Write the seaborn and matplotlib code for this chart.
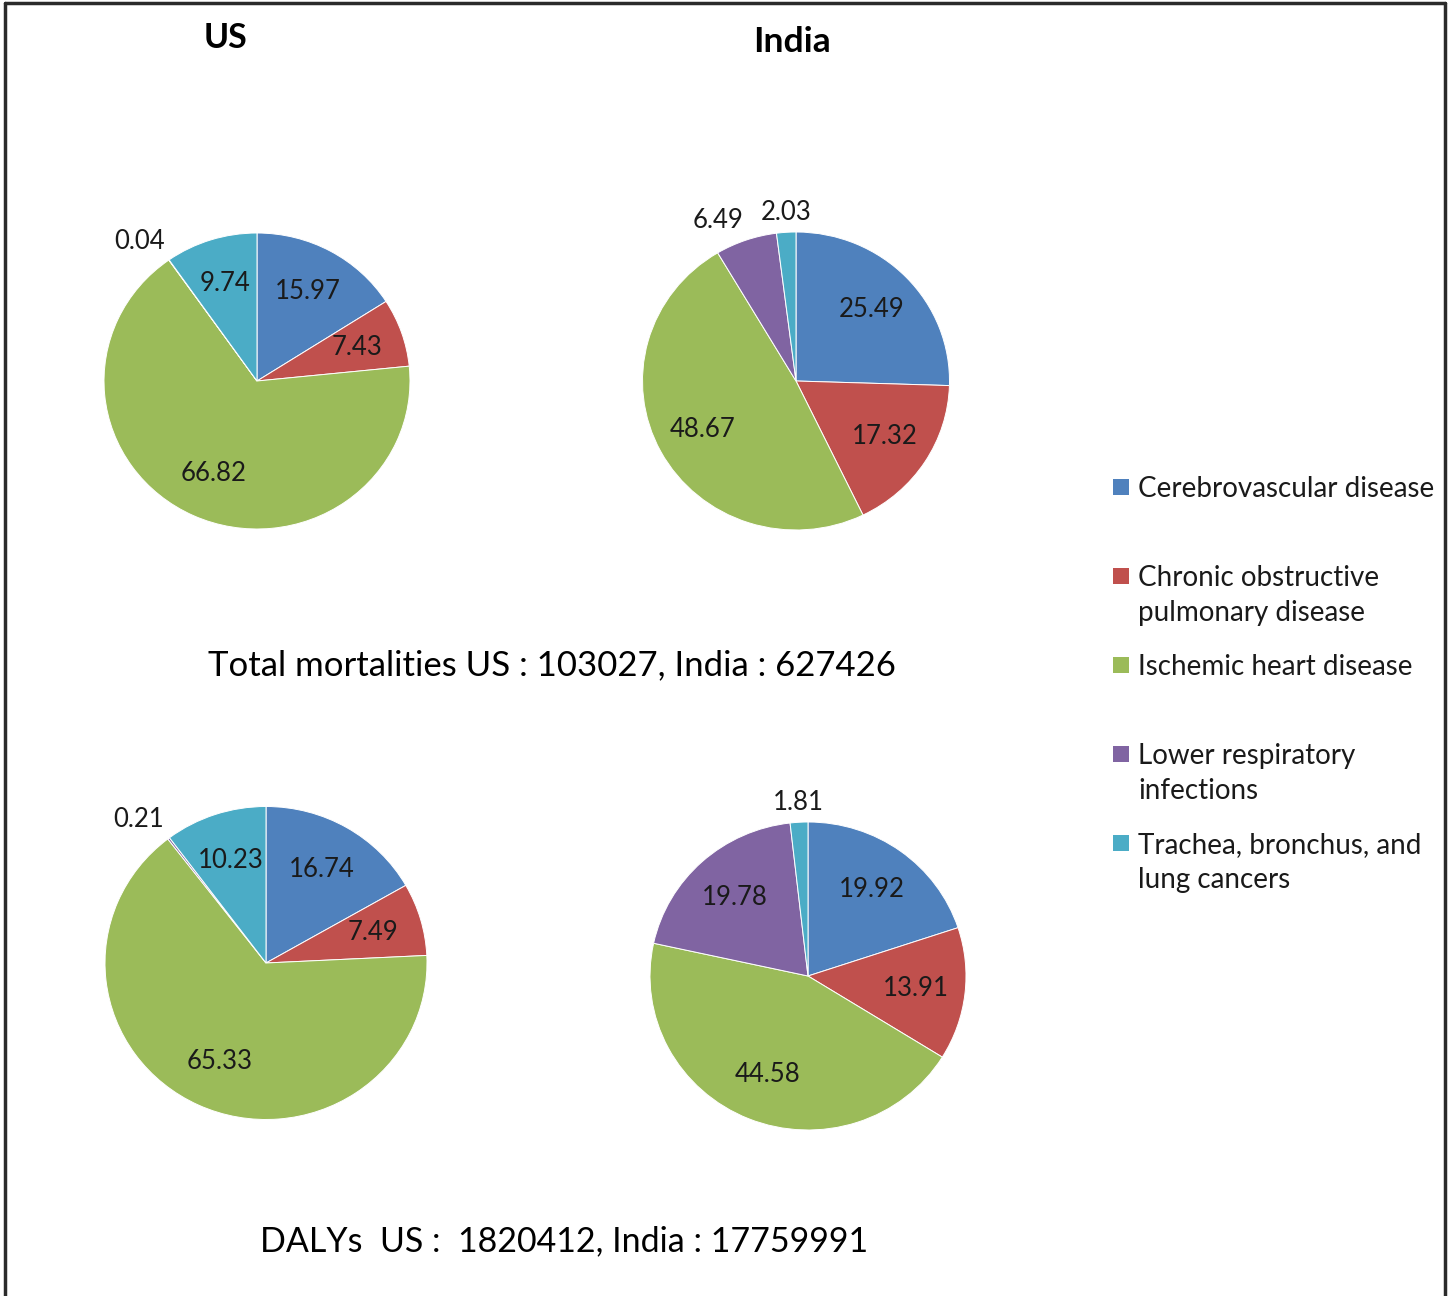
import numpy as np
import matplotlib
matplotlib.use("Agg")
import matplotlib.pyplot as plt
from matplotlib.patches import Rectangle
import seaborn as sns

# Cause-of-death categories and their colours
categories = [
    "Cerebrovascular disease",
    "Chronic obstructive\npulmonary disease",
    "Ischemic heart disease",
    "Lower respiratory\ninfections",
    "Trachea, bronchus, and\nlung cancers",
]
palette = ["#4F81BD", "#C0504D", "#9BBB59", "#8064A2", "#4BACC6"]

# Percentage shares per panel (order follows `categories`)
us_mortality = [15.97, 7.43, 66.82, 0.04, 9.74]
india_mortality = [25.49, 17.32, 48.67, 6.49, 2.03]
us_dalys = [16.74, 7.49, 65.33, 0.21, 10.23]
india_dalys = [19.92, 13.91, 44.58, 19.78, 1.81]

column_titles = ["US", "India"]
mortality_caption = "Total mortalities US : 103027, India : 627426"
dalys_caption = "DALYs  US :  1820412, India : 17759991"

sns.set_theme(style="white")
plt.rcParams["font.family"] = ["Lato", "DejaVu Sans"]

W, H = 1452, 1296
fig = plt.figure(figsize=(W / 100, H / 100), dpi=100)
fig.patch.set_facecolor("white")


def add_pie(values, cx, cy, rx, ry):
    """Pie centred at pixel (cx, cy), semi-axes rx/ry, labelled with its values."""
    ax = fig.add_axes([(cx - rx) / W, (H - cy - ry) / H, 2 * rx / W, 2 * ry / H])
    wedges, _ = ax.pie(
        values,
        colors=palette,
        startangle=90,
        counterclock=False,
        radius=1.0,
        wedgeprops=dict(edgecolor="white", linewidth=0.7),
    )
    ax.set_aspect("auto")
    ax.set_xlim(-1, 1)
    ax.set_ylim(-1, 1)
    ax.axis("off")
    for w, v in zip(wedges, values):
        mid = np.deg2rad((w.theta1 + w.theta2) / 2)
        c, s = np.cos(mid), np.sin(mid)
        if v >= 7:
            ax.text(0.69 * c, 0.69 * s, f"{v:.2f}", ha="center", va="center",
                    fontsize=18.5, color="#1a1a1a", clip_on=False)
        else:
            ha = "right" if c < -0.2 else ("left" if c > 0.2 else "center")
            ax.text(1.05 * c, 1.05 * s, f"{v:.2f}", ha=ha,
                    va="bottom" if s > 0 else "top",
                    fontsize=18.5, color="#1a1a1a", clip_on=False)
    return ax


add_pie(us_mortality, 257, 381, 153, 148)
add_pie(india_mortality, 796, 381, 153.5, 149)
add_pie(us_dalys, 266, 963, 161, 156.5)
add_pie(india_dalys, 808, 976, 158, 154)

# Column titles
fig.text(226 / W, 1 - 38 / H, column_titles[0], ha="center", va="center",
         fontsize=24.5, fontweight="bold", color="black")
fig.text(792 / W, 1 - 42 / H, column_titles[1], ha="center", va="center",
         fontsize=25.5, fontweight="bold", color="black")

# Totals beneath each row of pies
fig.text(552 / W, 1 - 665 / H, mortality_caption, ha="center", va="center",
         fontsize=25, color="black")
fig.text(564 / W, 1 - 1241 / H, dalys_caption, ha="center", va="center",
         fontsize=24.5, color="black")

# Legend: one entry every 89 px, swatch aligned with the first text line
leg_top = 487
for i, (cat, col) in enumerate(zip(categories, palette)):
    y = leg_top + 89 * i
    fig.patches.append(Rectangle((1113 / W, 1 - (y + 8) / H), 16 / W, 16 / H,
                                 transform=fig.transFigure, facecolor=col,
                                 edgecolor="none"))
    fig.text(1138 / W, 1 - (y - 11) / H, cat, ha="left", va="top",
             fontsize=20, color="#1a1a1a", linespacing=1.43)

# Outer frame (top, left and right edges)
frame_kw = dict(color="#2b2b2b", linewidth=2.5, transform=fig.transFigure)
fig.add_artist(plt.Line2D([5 / W, 5 / W], [0, 1 - 3 / H], **frame_kw))
fig.add_artist(plt.Line2D([1445 / W, 1445 / W], [0, 1 - 3 / H], **frame_kw))
fig.add_artist(plt.Line2D([5 / W, 1445 / W], [1 - 3 / H, 1 - 3 / H], **frame_kw))

fig.savefig("out.png", dpi=100, facecolor="white")
